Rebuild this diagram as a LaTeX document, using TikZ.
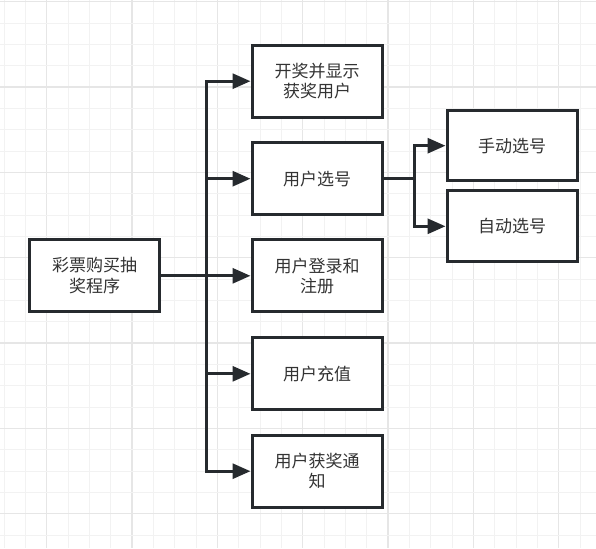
\documentclass[tikz,border=0pt]{standalone}
\usepackage{fontspec}
\setmainfont{Noto Sans CJK SC}
\usetikzlibrary{arrows.meta}
\definecolor{gridminor}{HTML}{F2F2F2}
\definecolor{gridmajor}{HTML}{E6E6E6}
\definecolor{boxline}{HTML}{262A2E}
\definecolor{txt}{HTML}{333333}
\tikzset{
  box/.style={draw=boxline, line width=3pt, fill=white, rectangle,
    minimum width=130pt, minimum height=72pt, align=center,
    text=txt, font=\fontsize{17}{20.5}\selectfont, inner sep=0pt},
  conn/.style={draw=boxline, line width=3pt,
    -{Triangle[length=18pt,width=15pt]}},
}
\begin{document}
\begin{tikzpicture}[x=1pt,y=-1pt]
\useasboundingbox (0,0) rectangle (596,548);
\fill[white] (0,0) rectangle (596,548);
\begin{scope}
\clip (0,0) rectangle (596,548);
\foreach \k in {0,...,27} {
  \pgfmathtruncatemacro{\m}{mod(\k,4)}
  \ifnum\m=2
    \draw[gridmajor, line width=1.2pt] ({4+21.333*\k},0) -- ({4+21.333*\k},548);
  \else
    \draw[gridminor, line width=1pt] ({4+21.333*\k},0) -- ({4+21.333*\k},548);
  \fi
}
\foreach \k in {0,...,25} {
  \pgfmathtruncatemacro{\m}{mod(\k,4)}
  \ifnum\m=0
    \draw[gridmajor, line width=1.2pt] (0,{1.7+21.333*\k}) -- (596,{1.7+21.333*\k});
  \else
    \draw[gridminor, line width=1pt] (0,{1.7+21.333*\k}) -- (596,{1.7+21.333*\k});
  \fi
}
\end{scope}

\node[box] (main) at (94.7,275.8) {彩票购买抽\\奖程序};
\node[box] (b1) at (317,81.2) {开奖并显示\\获奖用户};
\node[box] (b2) at (317,178.7) {用户选号};
\node[box] (b3) at (317,275.8) {用户登录和\\注册};
\node[box] (b4) at (317,373.8) {用户充值};
\node[box] (b5) at (317,471.2) {用户获奖通\\知};
\node[box, minimum height=70.5pt] (sa) at (512,145.7) {手动选号};
\node[box, minimum height=71pt] (sb) at (512,226.3) {自动选号};

\foreach \t in {b1,b2,b3,b4,b5}
  \draw[conn] (main.east) -- ++(45,0) |- (\t.west);
\foreach \t in {sa,sb}
  \draw[conn] (b2.east) -- ++(31,0) |- (\t.west);
\end{tikzpicture}
\end{document}
